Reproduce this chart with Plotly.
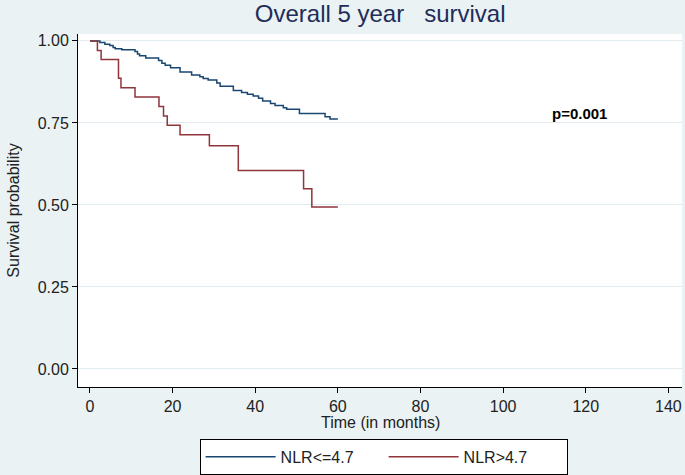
import plotly.graph_objects as go

# Kaplan-Meier steps (time in months, survival probability)
low_time = [0, 2.4, 3.6, 4.8, 5.6, 6.1, 7.7, 10.9, 11.5, 12.0, 13.5, 16.6, 17.4, 18.2,
            19.5, 21.8, 24.6, 26.6, 27.4, 28.6, 30.7, 31.5, 34.7, 36.7, 38.1, 39.5,
            40.8, 41.8, 43.7, 44.8, 46.8, 47.6, 50.7, 56.9, 58.1, 60.0]
low_surv = [1.0, 0.995, 0.990, 0.986, 0.980, 0.976, 0.973, 0.968, 0.960, 0.955, 0.948,
            0.940, 0.932, 0.926, 0.918, 0.905, 0.896, 0.891, 0.885, 0.881, 0.872, 0.862,
            0.849, 0.843, 0.837, 0.832, 0.825, 0.817, 0.809, 0.803, 0.796, 0.792, 0.779,
            0.769, 0.762, 0.762]

high_time = [0, 1.8, 2.7, 6.9, 7.5, 10.9, 16.7, 17.8, 18.7, 21.8, 28.9, 35.9, 51.7, 53.7, 60.0]
high_surv = [1.0, 0.971, 0.943, 0.886, 0.857, 0.829, 0.800, 0.771, 0.743, 0.714, 0.680,
             0.605, 0.549, 0.494, 0.494]

x_ticks = [0, 20, 40, 60, 80, 100, 120, 140]
y_ticks = [0, 0.25, 0.5, 0.75, 1.0]
y_tick_text = ["0.00", "0.25", "0.50", "0.75", "1.00"]

NAVY = "#1a476f"
MAROON = "#90353b"
BG = "#eaf2f3"
FONT = "Liberation Sans, Arial, sans-serif"

fig = go.Figure()
fig.add_scatter(x=low_time, y=low_surv, mode="lines", line_shape="hv",
                line=dict(color=NAVY, width=1.5), name="NLR<=4.7")
fig.add_scatter(x=high_time, y=high_surv, mode="lines", line_shape="hv",
                line=dict(color=MAROON, width=1.5), name="NLR>4.7")

fig.add_annotation(x=118.6, y=0.78, text="<b>p=0.001</b>", showarrow=False,
                   font=dict(size=15, color="black", family=FONT))
fig.add_annotation(x=0.5, y=-0.07, xref="paper", yref="paper", yanchor="top",
                   text="Time (in months)", showarrow=False,
                   font=dict(size=16, color="#222222", family=FONT))

fig.update_layout(
    width=685, height=475,
    paper_bgcolor=BG, plot_bgcolor="white",
    margin=dict(l=78, r=3, t=34, b=88, autoexpand=False),
    title=dict(text="Overall 5 year\u00a0\u00a0\u00a0survival", x=0.555, xanchor="center",
               y=0.99, yanchor="top",
               font=dict(size=24, color="#1e2d5a", family=FONT)),
    font=dict(family=FONT, size=16, color="#222222"),
    showlegend=True,
    legend=dict(orientation="h", x=0.506, xanchor="center", y=-0.147, yanchor="top",
                bgcolor="white", bordercolor="black", borderwidth=1,
                font=dict(size=16, family=FONT), entrywidth=98, entrywidthmode="pixels",
                itemwidth=70),
)
fig.update_xaxes(range=[-2.9, 143.3], tickvals=x_ticks, ticks="outside", ticklen=5,
                 tickcolor="black", showline=True, linecolor="black", linewidth=1,
                 showgrid=False, zeroline=False, tickfont=dict(size=16), automargin=False)
fig.update_yaxes(range=[-0.055, 1.021], tickvals=y_ticks, ticktext=y_tick_text,
                 ticks="outside", ticklen=5, tickcolor="black", showline=True,
                 linecolor="black", linewidth=1, showgrid=True, gridcolor="#e2ecf0",
                 zeroline=False, tickfont=dict(size=16), automargin=False,
                 title=dict(text="Survival probability", font=dict(size=16), standoff=14))

# drop the browser's default page margin so the figure sits at the window's corner
fig.write_html("out.html", config={"displayModeBar": False},
               post_script="document.body.style.margin='0';")
